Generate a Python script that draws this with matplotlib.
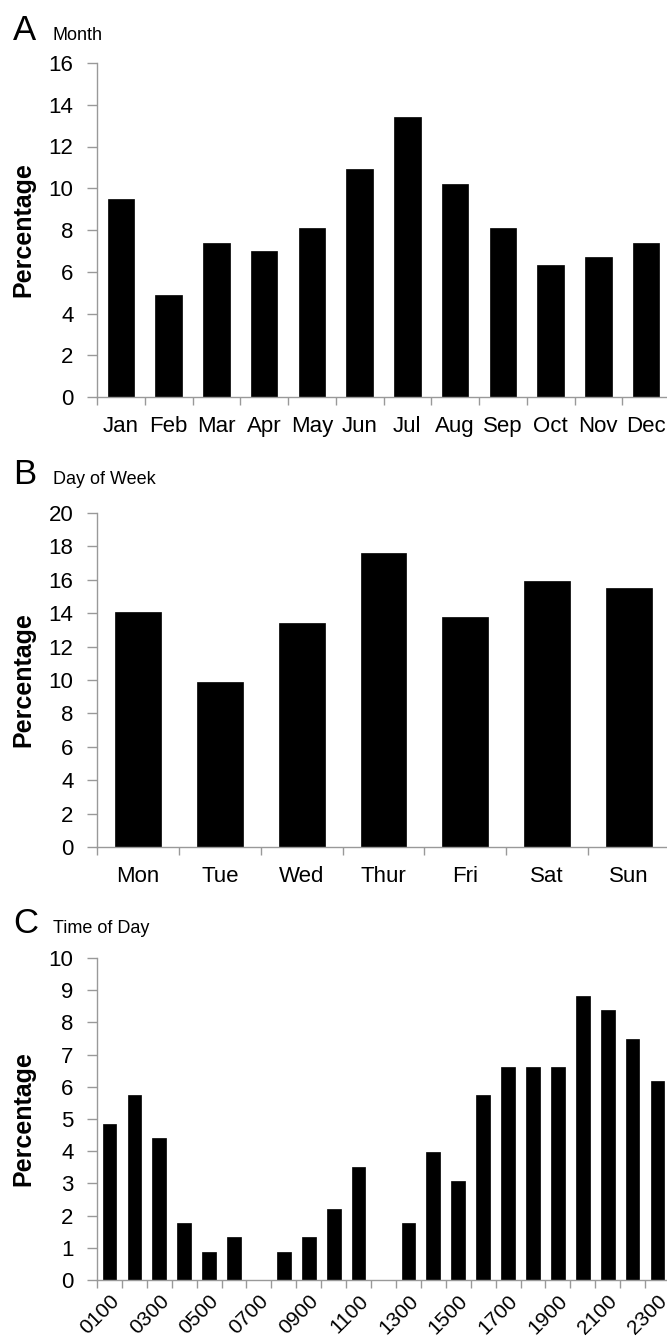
import matplotlib
matplotlib.use('Agg')
import matplotlib.pyplot as plt
from matplotlib.ticker import FixedLocator

plt.rcParams['font.family'] = ['Liberation Sans', 'DejaVu Sans']

months = ['Jan', 'Feb', 'Mar', 'Apr', 'May', 'Jun', 'Jul', 'Aug', 'Sep', 'Oct', 'Nov', 'Dec']
month_pct = [9.5, 4.9, 7.4, 7.0, 8.1, 10.9, 13.4, 10.2, 8.1, 6.3, 6.7, 7.4]

days = ['Mon', 'Tue', 'Wed', 'Thur', 'Fri', 'Sat', 'Sun']
day_pct = [14.1, 9.9, 13.4, 17.6, 13.8, 15.9, 15.5]

hours = ['0100', '0200', '0300', '0400', '0500', '0600', '0700', '0800',
         '0900', '1000', '1100', '1200', '1300', '1400', '1500', '1600',
         '1700', '1800', '1900', '2000', '2100', '2200', '2300']
hour_pct = [4.85, 5.73, 4.41, 1.76, 0.88, 1.32, 0, 0.88, 1.32, 2.20, 3.52, 0,
            1.76, 3.96, 3.08, 5.73, 6.61, 6.61, 6.61, 8.81, 8.37, 7.49, 6.17]

W, H = 667, 1339
spine_col = '#999999'

fig = plt.figure(figsize=(W / 100, H / 100), dpi=100)


def make_panel(top_px, bottom_px, cats, vals, ymax, ystep, letter, title,
               title_base_px, bar_w=0.56, rotate=False):
    left = 97 / W
    right = 670 / W
    ax = fig.add_axes([left, 1 - bottom_px / H, right - left,
                       (bottom_px - top_px) / H])
    n = len(cats)
    x = list(range(n))
    ax.bar(x, vals, width=bar_w, color='black', edgecolor='black', linewidth=0.5)
    ax.set_xlim(-0.5, n - 0.5)
    ax.set_ylim(0, ymax)
    ax.set_yticks(range(0, ymax + 1, ystep))
    for s in ['top', 'right']:
        ax.spines[s].set_visible(False)
    for s in ['left', 'bottom']:
        ax.spines[s].set_color(spine_col)
        ax.spines[s].set_linewidth(1.0)
    ax.tick_params(axis='y', direction='out', length=7, width=1.0,
                   color=spine_col, labelsize=16, pad=10)
    ax.xaxis.set_minor_locator(FixedLocator([i - 0.5 for i in range(n + 1)]))
    ax.tick_params(axis='x', which='minor', direction='out', length=6,
                   width=1.0, color=spine_col)
    if rotate:
        ax.set_xticks(x[::2])
        ax.set_xticklabels(cats[::2], rotation=45, ha='right',
                           rotation_mode='anchor', fontsize=15)
        ax.tick_params(axis='x', which='major', length=0, pad=8)
    else:
        ax.set_xticks(x)
        ax.set_xticklabels(cats, fontsize=16)
        ax.tick_params(axis='x', which='major', length=0, pad=14)
    fig.text(13 / W, 1 - title_base_px / H, letter, fontsize=25,
             va='baseline', ha='left')
    fig.text(53 / W, 1 - title_base_px / H, title, fontsize=13,
             va='baseline', ha='left')
    fig.text(23 / W, 1 - (top_px + bottom_px) / 2 / H, 'Percentage',
             rotation=90, fontsize=18, fontweight='bold',
             ha='center', va='center')
    return ax


make_panel(63, 397, months, month_pct, 16, 2, 'A', 'Month', 40)
make_panel(513, 847, days, day_pct, 20, 2, 'B', 'Day of Week', 484)
make_panel(958, 1280, hours, hour_pct, 10, 1, 'C', 'Time of Day', 933,
           bar_w=0.55, rotate=True)

fig.savefig('out.png', dpi=100)
